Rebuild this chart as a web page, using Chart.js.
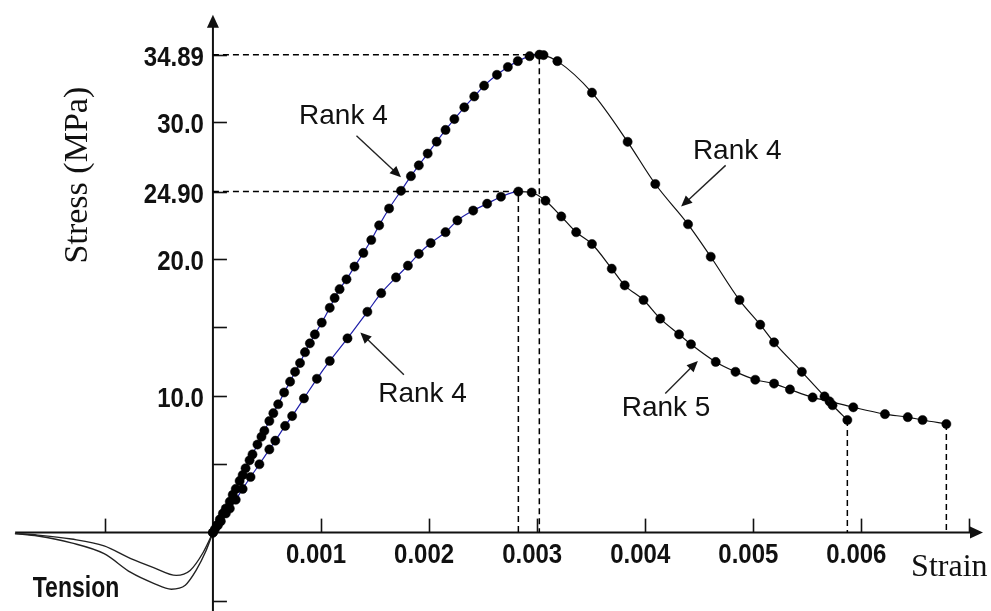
<!DOCTYPE html>
<html lang="en">
<head>
    <meta charset="UTF-8">
    <title>Stress-Strain</title>
    <script src="https://cdn.jsdelivr.net/npm/chart.js"></script>
    <style>
        html, body { margin: 0; padding: 0; background: #fff; overflow: hidden; }
        #wrap { width: 991px; height: 611px; position: relative; }
    </style>
</head>
<body>
    <div id="wrap"><canvas id="curve-chart"></canvas></div>
    <script>
        // upper curve (peak 34.89 MPa)
        const upperStrain = [0, 0.000018, 0.000037, 0.000064, 0.000092, 0.000119, 0.000156, 0.000183, 0.000211, 0.000247,
            0.000275, 0.000302, 0.000339, 0.000366, 0.000412, 0.000449, 0.000476, 0.000522, 0.000559, 0.000604,
            0.000659, 0.000714, 0.000760, 0.000806, 0.000852, 0.000897, 0.000943, 0.001007, 0.001081, 0.001126,
            0.001172, 0.001236, 0.001310, 0.001392, 0.001465, 0.001538, 0.001630, 0.001740, 0.001832, 0.001905,
            0.001987, 0.002070, 0.002152, 0.002234, 0.002326, 0.002418, 0.002509, 0.002628, 0.002729, 0.002821,
            0.002930, 0.003020, 0.003059, 0.003187, 0.003507, 0.003837, 0.004093, 0.004396, 0.004606, 0.004872,
            0.005064, 0.005192, 0.005449, 0.005659, 0.005733, 0.005870];
        const upperStress = [0, 0.25, 0.54, 0.97, 1.40, 1.76, 2.26, 2.76, 3.19, 3.77,
            4.20, 4.70, 5.28, 5.71, 6.43, 7.00, 7.43, 8.15, 8.72, 9.37,
            10.23, 11.02, 11.74, 12.38, 13.17, 13.82, 14.47, 15.33, 16.41, 17.13,
            17.77, 18.49, 19.42, 20.42, 21.36, 22.43, 23.66, 24.95, 26.02, 26.81,
            27.67, 28.54, 29.40, 30.19, 31.05, 31.84, 32.63, 33.42, 33.99, 34.42,
            34.78, 34.89, 34.86, 34.42, 32.12, 28.53, 25.45, 22.51, 20.14, 16.98,
            15.18, 13.89, 11.74, 9.94, 9.30, 8.22];

        // lower curve (peak 24.90 MPa)
        const lowerStrain = [0, 0.000046, 0.000073, 0.000119, 0.000156, 0.000211, 0.000275, 0.000348, 0.000430, 0.000522,
            0.000577, 0.000668, 0.000733, 0.000842, 0.000962, 0.001081, 0.001245, 0.001429, 0.001557, 0.001694,
            0.001804, 0.001905, 0.002015, 0.002152, 0.002262, 0.002408, 0.002537, 0.002665, 0.002826, 0.002949,
            0.003077, 0.003223, 0.003361, 0.003507, 0.003690, 0.003810, 0.003984, 0.004139, 0.004313, 0.004423,
            0.004652, 0.004835, 0.005018, 0.005192, 0.005339, 0.005549, 0.005705, 0.005925, 0.006218, 0.006429,
            0.006566, 0.006786];
        const lowerStress = [0, 0.54, 0.83, 1.40, 1.76, 2.40, 3.19, 4.06, 4.99, 6.07,
            6.71, 7.79, 8.51, 9.80, 11.23, 12.53, 14.18, 16.12, 17.48, 18.63,
            19.49, 20.35, 21.14, 21.93, 22.79, 23.51, 24.01, 24.52, 24.90, 24.83,
            24.23, 23.08, 21.93, 21.07, 19.27, 18.05, 16.98, 15.62, 14.47, 13.75,
            12.46, 11.74, 11.16, 10.88, 10.45, 9.87, 9.58, 9.15, 8.65, 8.43,
            8.22, 7.93];

        // tension branches (no markers)
        const tensionStrainA = [-0.001832, -0.001621, -0.001310, -0.001007, -0.000760, -0.000549, -0.000339, -0.000211, -0.000092, 0];
        const tensionStressA = [-0.07, -0.18, -0.47, -0.97, -1.90, -2.55, -3.12, -2.76, -1.47, 0];
        const tensionStrainB = [-0.001832, -0.001621, -0.001310, -0.001007, -0.000760, -0.000549, -0.000385, -0.000256, -0.000156, -0.000064, 0];
        const tensionStressB = [-0.07, -0.25, -0.75, -1.54, -2.91, -3.70, -4.13, -3.84, -2.76, -1.33, 0];

        // axis ticks
        const xTickValues = [-0.001, 0.001, 0.002, 0.003, 0.004, 0.005, 0.006, 0.007];
        const xTickLabels = ['', '0.001', '0.002', '0.003', '0.004', '0.005', '0.006', ''];
        const yTickValues = [34.89, 30.0, 24.90, 20.0, 15.0, 10.0, 5.0, -5.0];
        const yTickLabels = ['34.89', '30.0', '24.90', '20.0', '', '10.0', '', ''];

        const rankLabels = ['Rank 4', 'Rank 4', 'Rank 4', 'Rank 5'];

        const toPoints = (xs, ys) => xs.map((v, i) => ({ x: v, y: ys[i] }));
        const peakIndex = ys => ys.indexOf(Math.max(...ys));

        const upperPeak = peakIndex(upperStress);
        const lowerPeak = peakIndex(lowerStress);
        const upperEnd = upperStrain.length - 1;
        const lowerEnd = lowerStrain.length - 1;

        // guide lines from the peaks and end points down to the axes
        const guides = [
            [{ x: 0, y: upperStress[upperPeak] }, { x: upperStrain[upperPeak], y: upperStress[upperPeak] }, { x: upperStrain[upperPeak], y: 0 }],
            [{ x: 0, y: lowerStress[lowerPeak] }, { x: lowerStrain[lowerPeak], y: lowerStress[lowerPeak] }, { x: lowerStrain[lowerPeak], y: 0 }],
            [{ x: upperStrain[upperEnd], y: upperStress[upperEnd] }, { x: upperStrain[upperEnd], y: 0 }],
            [{ x: lowerStrain[lowerEnd], y: lowerStress[lowerEnd] }, { x: lowerStrain[lowerEnd], y: 0 }]
        ];

        const BLUE = '#1e1ea8';
        const INK = '#111';

        function curveDataset(xs, ys) {
            const peakX = xs[peakIndex(ys)];
            return {
                data: toPoints(xs, ys),
                showLine: true,
                borderWidth: 1.2,
                borderColor: INK,
                segment: {
                    borderColor: c => (c.p0.parsed.x < peakX ? BLUE : INK)
                },
                cubicInterpolationMode: 'monotone',
                pointRadius: 4.6,
                pointBorderWidth: 0.5,
                pointBackgroundColor: '#000',
                pointBorderColor: '#000'
            };
        }

        function plainLine(points, dashed) {
            return {
                data: points,
                showLine: true,
                borderWidth: dashed ? 1.5 : 1.4,
                borderColor: dashed ? '#000' : '#222',
                borderDash: dashed ? [6, 4] : [],
                cubicInterpolationMode: dashed ? 'default' : 'monotone',
                tension: 0,
                pointRadius: 0
            };
        }

        // annotation placement, in strain / stress units
        const rankAt = [
            { text: [0.000797, 29.83], from: [0.001328, 28.97], to: [0.001740, 25.95] },
            { text: [0.004441, 27.24], from: [0.004744, 26.81], to: [0.004332, 23.80] },
            { text: [0.001529, 9.51], from: [0.001767, 11.52], to: [0.001364, 14.61] },
            { text: [0.003782, 8.51], from: [0.004185, 10.16], to: [0.004487, 12.53] }
        ];

        function stretched(ctx, text, px, py, align, sy) {
            ctx.save();
            ctx.translate(px, py);
            ctx.scale(1, sy);
            ctx.textAlign = align;
            ctx.textBaseline = 'alphabetic';
            ctx.fillText(text, 0, 0);
            ctx.restore();
        }

        function arrowHead(ctx, fx, fy, tx, ty, len, half) {
            const a = Math.atan2(ty - fy, tx - fx);
            ctx.beginPath();
            ctx.moveTo(tx, ty);
            ctx.lineTo(tx - len * Math.cos(a) + half * Math.sin(a), ty - len * Math.sin(a) - half * Math.cos(a));
            ctx.lineTo(tx - len * Math.cos(a) - half * Math.sin(a), ty - len * Math.sin(a) + half * Math.cos(a));
            ctx.closePath();
            ctx.fill();
        }

        const axesPlugin = {
            id: 'crossAxes',
            beforeDatasetsDraw(chart) {
                const { ctx, scales: { x, y } } = chart;
                const x0 = x.getPixelForValue(0);
                const y0 = y.getPixelForValue(0);
                ctx.save();
                ctx.strokeStyle = INK;
                ctx.fillStyle = INK;
                ctx.lineWidth = 2;

                // vertical axis with arrow
                const yTop = y.getPixelForValue(37.8);
                ctx.beginPath();
                ctx.moveTo(x0, chart.height);
                ctx.lineTo(x0, yTop + 8);
                ctx.stroke();
                arrowHead(ctx, x0, yTop + 20, x0, yTop, 13, 6);

                // horizontal axis with arrow
                const xLeft = x.getPixelForValue(-0.00183);
                const xTip = x.getPixelForValue(0.007125);
                ctx.beginPath();
                ctx.moveTo(xLeft, y0);
                ctx.lineTo(xTip - 8, y0);
                ctx.stroke();
                arrowHead(ctx, xTip - 20, y0, xTip, y0, 13, 6);

                // ticks
                ctx.lineWidth = 1.6;
                yTickValues.forEach(v => {
                    const py = Math.round(y.getPixelForValue(v)) + 0.5;
                    ctx.beginPath();
                    ctx.moveTo(x0, py);
                    ctx.lineTo(x0 + 14, py);
                    ctx.stroke();
                });
                xTickValues.forEach(v => {
                    const px = Math.round(x.getPixelForValue(v)) + 0.5;
                    ctx.beginPath();
                    ctx.moveTo(px, y0);
                    ctx.lineTo(px, y0 - 14);
                    ctx.stroke();
                });

                // tick labels
                ctx.font = 'bold 24px "Liberation Sans", Arial, sans-serif';
                yTickValues.forEach((v, i) => {
                    if (!yTickLabels[i]) return;
                    stretched(ctx, yTickLabels[i], x0 - 9, y.getPixelForValue(v) + 11.5, 'right', 1.17);
                });
                xTickValues.forEach((v, i) => {
                    if (!xTickLabels[i]) return;
                    stretched(ctx, xTickLabels[i], x.getPixelForValue(v) - 5, y0 + 30.5, 'center', 1.17);
                });

                // axis titles
                ctx.font = '34px "Liberation Serif", "Times New Roman", serif';
                ctx.save();
                ctx.translate(x.getPixelForValue(-0.00125), y.getPixelForValue(26.1));
                ctx.rotate(-Math.PI / 2);
                ctx.textAlign = 'center';
                ctx.textBaseline = 'middle';
                ctx.fillText('Stress (MPa)', 0, 0);
                ctx.restore();
                ctx.font = '32px "Liberation Serif", "Times New Roman", serif';
                ctx.textAlign = 'left';
                ctx.textBaseline = 'alphabetic';
                ctx.fillText('Strain', x.getPixelForValue(0.00646), y.getPixelForValue(-3.14));

                ctx.font = 'bold 23px "Liberation Sans", Arial, sans-serif';
                stretched(ctx, 'Tension', x.getPixelForValue(-0.001667), y.getPixelForValue(-4.7), 'left', 1.32);
                ctx.restore();
            },
            afterDatasetsDraw(chart) {
                const { ctx, scales: { x, y } } = chart;
                ctx.save();
                ctx.fillStyle = INK;
                ctx.strokeStyle = '#222';
                ctx.lineWidth = 1.4;
                ctx.font = '28px "Liberation Sans", Arial, sans-serif';
                ctx.textAlign = 'left';
                ctx.textBaseline = 'alphabetic';
                rankAt.forEach((r, i) => {
                    ctx.fillText(rankLabels[i], x.getPixelForValue(r.text[0]), y.getPixelForValue(r.text[1]));
                    const fx = x.getPixelForValue(r.from[0]), fy = y.getPixelForValue(r.from[1]);
                    const tx = x.getPixelForValue(r.to[0]), ty = y.getPixelForValue(r.to[1]);
                    const a = Math.atan2(ty - fy, tx - fx);
                    ctx.beginPath();
                    ctx.moveTo(fx, fy);
                    ctx.lineTo(tx - 8 * Math.cos(a), ty - 8 * Math.sin(a));
                    ctx.stroke();
                    arrowHead(ctx, fx, fy, tx, ty, 11, 5);
                });
                ctx.restore();
            }
        };

        const datasets = [
            curveDataset(upperStrain, upperStress),
            curveDataset(lowerStrain, lowerStress),
            plainLine(toPoints(tensionStrainA, tensionStressA), false),
            plainLine(toPoints(tensionStrainB, tensionStressB), false),
            ...guides.map(g => plainLine(g, true))
        ];

        new Chart(document.getElementById('curve-chart'), {
            type: 'scatter',
            data: { datasets },
            options: {
                responsive: true,
                maintainAspectRatio: false,
                animation: false,
                devicePixelRatio: 1,
                layout: { padding: 0 },
                scales: {
                    x: { type: 'linear', min: -0.001923, max: 0.007152, display: false },
                    y: { type: 'linear', min: -5.35, max: 38.51, display: false }
                },
                plugins: {
                    legend: { display: false },
                    tooltip: { enabled: false }
                }
            },
            plugins: [axesPlugin]
        });
    </script>
</body>
</html>
